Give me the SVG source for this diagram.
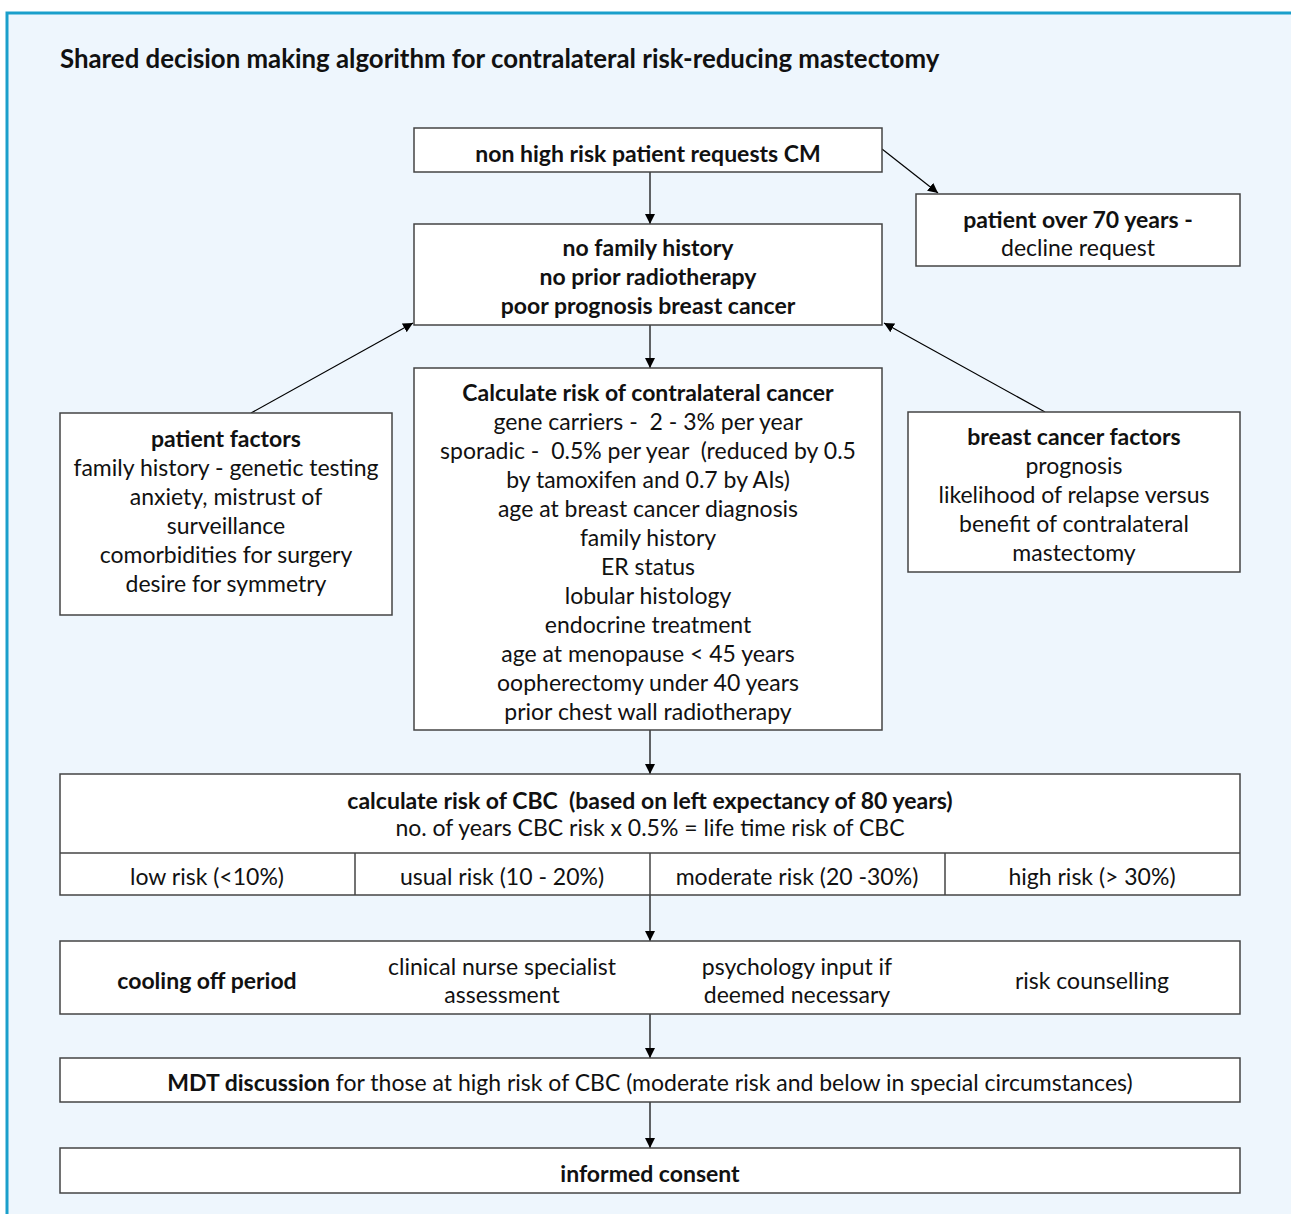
<svg xmlns="http://www.w3.org/2000/svg" width="1291" height="1214" viewBox="0 0 1291 1214">
<defs>
<marker id="ah" viewBox="0 0 10 10" refX="10" refY="5" markerWidth="10" markerHeight="10" markerUnits="userSpaceOnUse" orient="auto">
<path d="M0,0 L10,5 L0,10 z" fill="#000"/>
</marker>
<style>
.bx{fill:#fff;stroke:#444;stroke-width:1.5}
.t{font-family:Lato,"Liberation Sans",sans-serif;font-size:23px;fill:#111;text-anchor:middle;white-space:pre}
.b{font-weight:bold}
.c{stroke:#000;stroke-width:1.2;fill:none;marker-end:url(#ah)}
</style>
</defs>
<rect x="7" y="13" width="1300" height="1220" fill="#eef6fd" stroke="#1a9fcb" stroke-width="3"/>
<text x="60" y="68" style="font-family:Lato,'Liberation Sans',sans-serif;font-size:25.8px;font-weight:bold;fill:#111">Shared decision making algorithm for contralateral risk-reducing mastectomy</text>
<g id="connectors">
<line class="c" x1="650" y1="172" x2="650" y2="224"/>
<line class="c" x1="882" y1="149" x2="938" y2="193"/>
<line class="c" x1="650" y1="325" x2="650" y2="368"/>
<line class="c" x1="251" y1="413" x2="413" y2="323"/>
<line class="c" x1="1045" y1="412" x2="884" y2="323"/>
<line class="c" x1="650" y1="730" x2="650" y2="774"/>
<line class="c" x1="650" y1="895" x2="650" y2="941"/>
<line class="c" x1="650" y1="1014" x2="650" y2="1058"/>
<line class="c" x1="650" y1="1102" x2="650" y2="1148"/>
</g>
<g id="n1"><rect class="bx" x="414" y="128" width="468" height="44"/>
<text class="t b" x="648" y="162">non high risk patient requests CM</text></g>
<g id="n2"><rect class="bx" x="916" y="194" width="324" height="72"/>
<text class="t" x="1078" y="228"><tspan class="b">patient over 70 years -</tspan><tspan x="1078" dy="28">decline request</tspan></text></g>
<g id="n3"><rect class="bx" x="414" y="224" width="468" height="101"/>
<text class="t b" x="648" y="256">no family history<tspan x="648" dy="29">no prior radiotherapy</tspan><tspan x="648" dy="29">poor prognosis breast cancer</tspan></text></g>
<g id="n4"><rect class="bx" x="414" y="368" width="468" height="362"/>
<text class="t" x="648" y="401"><tspan class="b">Calculate risk of contralateral cancer</tspan><tspan x="648" dy="29">gene carriers -  2 - 3% per year</tspan><tspan x="648" dy="29">sporadic -  0.5% per year  (reduced by 0.5</tspan><tspan x="648" dy="29">by tamoxifen and 0.7 by AIs)</tspan><tspan x="648" dy="29">age at breast cancer diagnosis</tspan><tspan x="648" dy="29">family history</tspan><tspan x="648" dy="29">ER status</tspan><tspan x="648" dy="29">lobular histology</tspan><tspan x="648" dy="29">endocrine treatment</tspan><tspan x="648" dy="29">age at menopause &lt; 45 years</tspan><tspan x="648" dy="29">oopherectomy under 40 years</tspan><tspan x="648" dy="29">prior chest wall radiotherapy</tspan></text></g>
<g id="n5"><rect class="bx" x="60" y="413" width="332" height="202"/>
<text class="t" x="226" y="447"><tspan class="b">patient factors</tspan><tspan x="226" dy="29">family history - genetic testing</tspan><tspan x="226" dy="29">anxiety, mistrust of</tspan><tspan x="226" dy="29">surveillance</tspan><tspan x="226" dy="29">comorbidities for surgery</tspan><tspan x="226" dy="29">desire for symmetry</tspan></text></g>
<g id="n6"><rect class="bx" x="908" y="412" width="332" height="160"/>
<text class="t" x="1074" y="445"><tspan class="b">breast cancer factors</tspan><tspan x="1074" dy="29">prognosis</tspan><tspan x="1074" dy="29">likelihood of relapse versus</tspan><tspan x="1074" dy="29">benefit of contralateral</tspan><tspan x="1074" dy="29">mastectomy</tspan></text></g>
<g id="n7"><rect class="bx" x="60" y="774" width="1180" height="121"/>
<line x1="60" y1="853" x2="1240" y2="853" stroke="#444" stroke-width="1.5"/>
<line x1="355" y1="853" x2="355" y2="895" stroke="#444" stroke-width="1.5"/>
<line x1="650" y1="853" x2="650" y2="895" stroke="#444" stroke-width="1.5"/>
<line x1="945" y1="853" x2="945" y2="895" stroke="#444" stroke-width="1.5"/>
<text class="t" x="650" y="809"><tspan class="b">calculate risk of CBC  (based on left expectancy of 80 years)</tspan><tspan x="650" dy="27">no. of years CBC risk x 0.5% = life time risk of CBC</tspan></text>
<text class="t" x="207" y="885">low risk (&lt;10%)</text>
<text class="t" x="502" y="885">usual risk (10 - 20%)</text>
<text class="t" x="797" y="885">moderate risk (20 -30%)</text>
<text class="t" x="1092" y="885">high risk (&gt; 30%)</text></g>
<g id="n8"><rect class="bx" x="60" y="941" width="1180" height="73"/>
<text class="t b" x="207" y="989">cooling off period</text>
<text class="t" x="502" y="975">clinical nurse specialist<tspan x="502" dy="28">assessment</tspan></text>
<text class="t" x="797" y="975">psychology input if<tspan x="797" dy="28">deemed necessary</tspan></text>
<text class="t" x="1092" y="989">risk counselling</text></g>
<g id="n9"><rect class="bx" x="60" y="1058" width="1180" height="44"/>
<text class="t" x="650" y="1091"><tspan class="b">MDT discussion</tspan> for those at high risk of CBC (moderate risk and below in special circumstances)</text></g>
<g id="n10"><rect class="bx" x="60" y="1148" width="1180" height="45"/>
<text class="t b" x="650" y="1182">informed consent</text></g>
</svg>
